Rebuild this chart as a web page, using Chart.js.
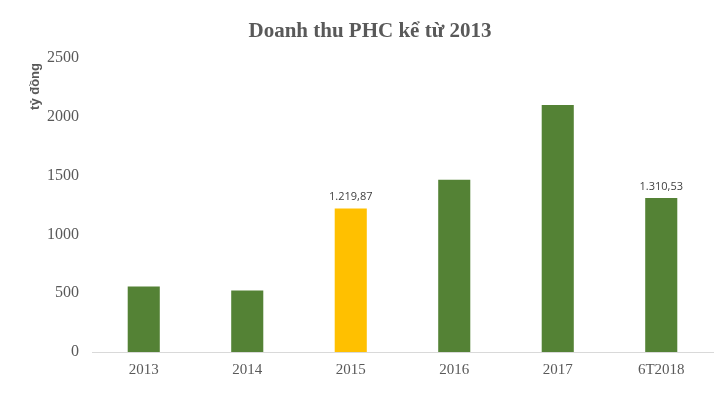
<!DOCTYPE html>
<html>
<head>
<meta charset="utf-8">
<script src="https://cdn.jsdelivr.net/npm/chart.js@4"></script>
<style>
  body { margin: 0; background: #fff; }
  #wrap { width: 716px; height: 399px; }
</style>
</head>
<body>
<div id="wrap"><canvas id="revenueChart" width="716" height="399"></canvas></div>
<script>
// doanh thu PHC (tỷ đồng)
var categories = ['2013', '2014', '2015', '2016', '2017', '6T2018'];
var revenue = [557, 523, 1219.87, 1465, 2101, 1310.53];
var barLabels = ['', '', '1.219,87', '', '', '1.310,53'];
var barColors = ['#548235', '#548235', '#FFC000', '#548235', '#548235', '#548235'];
var yTicks = [0, 500, 1000, 1500, 2000, 2500];

var textGray = '#595959';

// tiêu đề, nhãn trục y và nhãn giá trị
var extraText = {
    id: 'extraText',
    afterDraw: function(chart) {
        var ctx = chart.ctx;
        ctx.save();
        ctx.fillStyle = textGray;
        ctx.font = 'bold 21px "Liberation Serif", "Times New Roman", serif';
        ctx.textAlign = 'center';
        ctx.textBaseline = 'alphabetic';
        ctx.fillText('Doanh thu PHC kể từ 2013', 370, 37);

        ctx.translate(39, 63);
        ctx.rotate(-Math.PI / 2);
        ctx.font = 'bold 13px "Liberation Sans", Arial, sans-serif';
        ctx.textAlign = 'right';
        ctx.textBaseline = 'alphabetic';
        ctx.fillText('tỷ đồng', 0, 0);
        ctx.restore();

        ctx.save();
        ctx.fillStyle = '#404040';
        ctx.font = '11px "Open Sans", "Noto Sans", sans-serif';
        ctx.textAlign = 'center';
        ctx.textBaseline = 'bottom';
        var meta = chart.getDatasetMeta(0);
        meta.data.forEach(function(bar, i) {
            if (barLabels[i]) {
                ctx.fillText(barLabels[i], bar.x, bar.y - 6);
            }
        });
        ctx.restore();
    }
};

new Chart(document.getElementById('revenueChart').getContext('2d'), {
    type: 'bar',
    data: {
        labels: categories,
        datasets: [{
            data: revenue,
            backgroundColor: barColors,
            barPercentage: 0.31,
            categoryPercentage: 1
        }]
    },
    options: {
        responsive: false,
        animation: false,
        layout: { padding: { top: 58, right: 3, left: 0, bottom: 0 } },
        plugins: {
            legend: { display: false },
            title: { display: false },
            tooltip: { enabled: false }
        },
        scales: {
            x: {
                grid: { display: false, drawTicks: false },
                border: { color: '#d9d9d9', width: 1 },
                ticks: {
                    color: textGray,
                    padding: 9,
                    font: { family: '"Liberation Serif", "Times New Roman", serif', size: 15 }
                },
                afterFit: function(scale) { scale.height = 47; }
            },
            y: {
                min: 0,
                max: 2500,
                grid: { display: false, drawTicks: false },
                border: { display: false },
                afterBuildTicks: function(scale) {
                    scale.ticks = yTicks.map(function(v) { return { value: v }; });
                },
                ticks: {
                    color: textGray,
                    padding: 13,
                    font: { family: '"Liberation Serif", "Times New Roman", serif', size: 16 },
                    callback: function(value) { return String(value); }
                },
                afterFit: function(scale) { scale.width = 92; }
            }
        }
    },
    plugins: [extraText]
});
</script>
</body>
</html>
